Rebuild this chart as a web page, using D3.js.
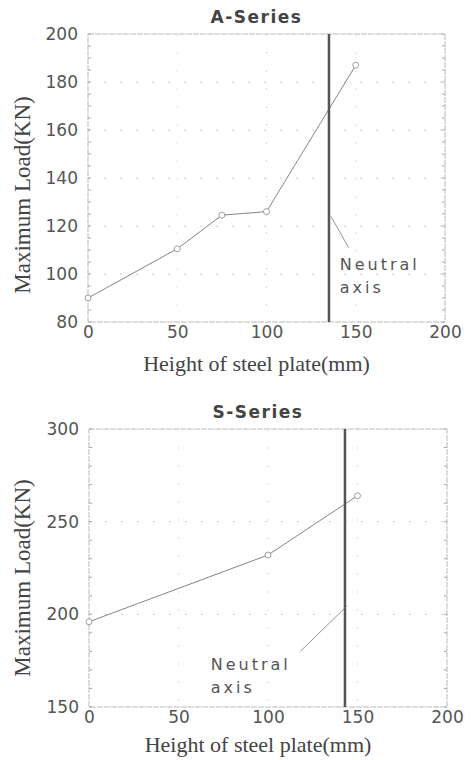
<!DOCTYPE html>
<html>
<head>
<meta charset="utf-8">
<script src="https://cdn.jsdelivr.net/npm/d3@7"></script>
<style>
  body { margin: 0; background: #fff; }
  svg { display: block; }
</style>
</head>
<body>
<div id="chart"></div>
<script>
// A-Series data
var aHeights = [0, 50, 75, 100, 150];
var aLoads = [90, 110.5, 124.5, 126, 187];
var aNeutral = 135;
var aYTicks = [80, 100, 120, 140, 160, 180, 200];

// S-Series data
var sHeights = [0, 100, 150];
var sLoads = [196, 232, 264];
var sNeutral = 143;
var sYTicks = [150, 200, 250, 300];

var xTicks = [0, 50, 100, 150, 200];

var W = 473, H = 760;
var svg = d3.select("#chart").append("svg")
    .attr("width", W)
    .attr("height", H);

function drawPanel(opt) {
    var g = svg.append("g");
    var x = d3.scaleLinear().domain([0, 200]).range([opt.left, opt.right]);
    var y = d3.scaleLinear().domain(opt.yDomain).range([opt.bottom, opt.top]);

    // frame
    g.append("rect")
        .attr("x", opt.left).attr("y", opt.top)
        .attr("width", opt.right - opt.left).attr("height", opt.bottom - opt.top)
        .attr("fill", "none").attr("stroke", "#bbb").attr("stroke-width", 1)
        .attr("stroke-dasharray", "6,1");

    // sparse dashed grid lines
    g.selectAll(".hgrid").data(opt.yTicks.slice(1, -1)).enter().append("line")
        .attr("x1", opt.left).attr("x2", opt.right)
        .attr("y1", function (d) { return y(d); }).attr("y2", function (d) { return y(d); })
        .attr("stroke", "#ccc").attr("stroke-dasharray", "2,14");
    g.selectAll(".vgrid").data(xTicks.slice(1, -1)).enter().append("line")
        .attr("y1", opt.top).attr("y2", opt.bottom)
        .attr("x1", function (d) { return x(d); }).attr("x2", function (d) { return x(d); })
        .attr("stroke", "#ddd").attr("stroke-dasharray", "2,16");

    // minor ticks on left and right
    var yMinor = d3.range(opt.yDomain[0], opt.yDomain[1] + 0.01, opt.minorStep);
    [[opt.left, 3], [opt.right, -3]].forEach(function (side) {
        g.selectAll(null).data(yMinor).enter().append("line")
            .attr("x1", side[0]).attr("x2", side[0] + side[1])
            .attr("y1", function (d) { return y(d); }).attr("y2", function (d) { return y(d); })
            .attr("stroke", "#aaa");
    });

    // y axis labels
    var yAxis = d3.axisLeft(y).tickValues(opt.yTicks).tickSize(0).tickPadding(10);
    g.append("g").attr("transform", "translate(" + opt.left + ",0)").call(yAxis)
        .call(function (a) { a.select(".domain").remove(); })
        .selectAll("text")
        .attr("font-family", "DejaVu Sans").attr("font-size", 17).attr("fill", "#555");

    // x axis labels
    var xAxis = d3.axisBottom(x).tickValues(xTicks).tickSize(0).tickPadding(4);
    g.append("g").attr("transform", "translate(0," + opt.bottom + ")").call(xAxis)
        .call(function (a) { a.select(".domain").remove(); })
        .selectAll("text")
        .attr("font-family", "DejaVu Sans").attr("font-size", 17).attr("fill", "#555");

    // titles
    g.append("text")
        .attr("x", (opt.left + opt.right) / 2 - 10).attr("y", opt.titleY)
        .attr("text-anchor", "middle")
        .attr("font-family", "DejaVu Sans").attr("font-weight", "bold")
        .attr("font-size", 17).attr("letter-spacing", 1.5).attr("fill", "#444")
        .text(opt.title);
    g.append("text")
        .attr("x", (opt.left + opt.right) / 2 - 10).attr("y", opt.xTitleY)
        .attr("text-anchor", "middle")
        .attr("font-family", "Liberation Serif").attr("font-size", 22).attr("fill", "#444")
        .text("Height of steel  plate(mm)");
    g.append("text")
        .attr("transform", "translate(30," + opt.yTitleMid + ") rotate(-90)")
        .attr("text-anchor", "middle")
        .attr("font-family", "Liberation Serif").attr("font-size", 23).attr("fill", "#444")
        .text("Maximum Load(KN)");

    // data line and markers
    var pts = opt.xs.map(function (d, i) { return [d, opt.ys[i]]; });
    var line = d3.line().x(function (d) { return x(d[0]); }).y(function (d) { return y(d[1]); });
    g.append("path").datum(pts).attr("d", line)
        .attr("fill", "none").attr("stroke", "#777").attr("stroke-width", 0.9);
    g.selectAll(null).data(pts).enter().append("circle")
        .attr("cx", function (d) { return x(d[0]); }).attr("cy", function (d) { return y(d[1]); })
        .attr("r", 3).attr("fill", "#fff").attr("stroke", "#888").attr("stroke-width", 0.8);

    // neutral axis
    g.append("line")
        .attr("x1", x(opt.neutral)).attr("x2", x(opt.neutral))
        .attr("y1", opt.top).attr("y2", opt.bottom)
        .attr("stroke", "#555").attr("stroke-width", 2.5);

    // leader line and label
    g.append("line")
        .attr("x1", x(opt.neutral) + 2).attr("y1", y(opt.leader[0]))
        .attr("x2", x(opt.leader[1])).attr("y2", y(opt.leader[2]))
        .attr("stroke", "#777").attr("stroke-width", 0.8);
    var lab = g.append("text")
        .attr("font-family", "DejaVu Sans").attr("font-size", 16)
        .attr("letter-spacing", 3).attr("fill", "#555");
    lab.append("tspan").attr("x", x(opt.labelAt[0])).attr("y", y(opt.labelAt[1])).text("Neutral");
    lab.append("tspan").attr("x", x(opt.labelAt[0])).attr("y", y(opt.labelAt[1]) + 23).text("axis");
}

drawPanel({
    title: "A-Series",
    left: 88, right: 445, top: 34, bottom: 322,
    titleY: 23, xTitleY: 371, yTitleMid: 195,
    yDomain: [80, 200], yTicks: aYTicks, minorStep: 5,
    xs: aHeights, ys: aLoads, neutral: aNeutral,
    leader: [124, 146, 111],
    labelAt: [141, 101.5]
});

drawPanel({
    title: "S-Series",
    left: 89, right: 447, top: 429, bottom: 707,
    titleY: 418, xTitleY: 752, yTitleMid: 578,
    yDomain: [150, 300], yTicks: sYTicks, minorStep: 10,
    xs: sHeights, ys: sLoads, neutral: sNeutral,
    leader: [204.5, 118, 180],
    labelAt: [68, 170]
});
</script>
</body>
</html>
